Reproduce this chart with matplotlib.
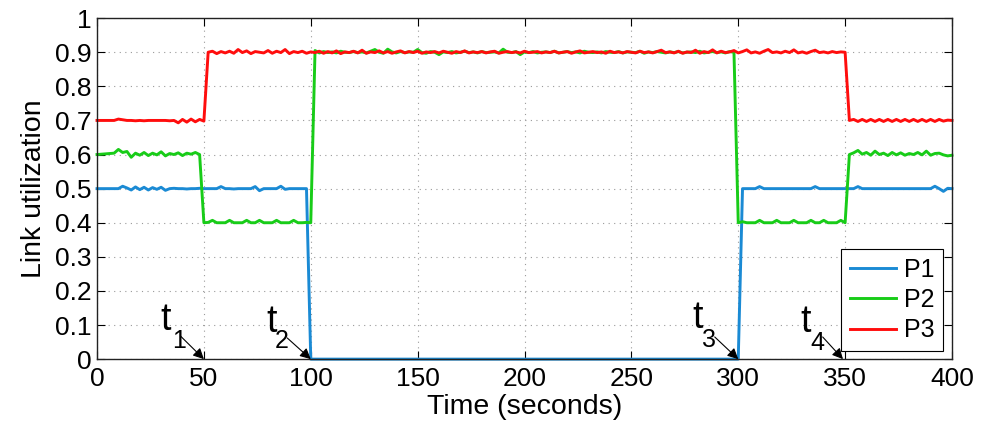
import numpy as np
import matplotlib.pyplot as plt

plt.rcParams['font.family'] = ['Liberation Sans', 'DejaVu Sans']

# sample times (seconds), one sample every 2 s
time = np.arange(0, 401, 2)

# link utilization per path
p1 = ([0.500, 0.500, 0.500, 0.500, 0.500, 0.500, 0.507, 0.502, 0.496, 0.505,
       0.497, 0.504, 0.496, 0.503, 0.498, 0.504, 0.495, 0.500, 0.501, 0.500,
       0.500, 0.499, 0.500, 0.500, 0.501, 0.500, 0.500, 0.500, 0.500, 0.506,
       0.500, 0.500, 0.499, 0.500, 0.500, 0.500, 0.500, 0.506, 0.494, 0.500,
       0.500, 0.500, 0.500, 0.507, 0.498, 0.500, 0.500, 0.500, 0.500, 0.500]
      + [0.0] * 100
      + [0.000, 0.500, 0.500, 0.500, 0.500, 0.506, 0.500, 0.500, 0.500, 0.500,
         0.500, 0.500, 0.500, 0.500, 0.500, 0.500, 0.500, 0.500, 0.506, 0.500,
         0.500, 0.500, 0.500, 0.500, 0.500, 0.500, 0.500, 0.500, 0.506, 0.500,
         0.500, 0.500, 0.500, 0.500, 0.500, 0.500, 0.500, 0.500, 0.500, 0.500,
         0.500, 0.500, 0.500, 0.500, 0.500, 0.500, 0.507, 0.500, 0.492, 0.501,
         0.500])

p2 = [0.600, 0.601, 0.602, 0.603, 0.604, 0.615, 0.606, 0.609, 0.592, 0.604,
      0.598, 0.606, 0.597, 0.604, 0.599, 0.608, 0.596, 0.603, 0.600, 0.605,
      0.597, 0.604, 0.601, 0.606, 0.600, 0.400, 0.401, 0.407, 0.400, 0.400,
      0.400, 0.407, 0.400, 0.400, 0.400, 0.407, 0.400, 0.400, 0.407, 0.400,
      0.400, 0.400, 0.407, 0.400, 0.400, 0.400, 0.407, 0.400, 0.400, 0.401,
      0.400, 0.905, 0.898, 0.902, 0.899, 0.901, 0.898, 0.903, 0.900, 0.899,
      0.902, 0.899, 0.901, 0.898, 0.903, 0.908, 0.900, 0.897, 0.909, 0.901,
      0.898, 0.902, 0.899, 0.901, 0.900, 0.908, 0.899, 0.897, 0.902, 0.900,
      0.893, 0.901, 0.899, 0.902, 0.898, 0.900, 0.903, 0.899, 0.901, 0.898,
      0.902, 0.899, 0.900, 0.901, 0.898, 0.909, 0.900, 0.899, 0.902, 0.893,
      0.901, 0.899, 0.902, 0.898, 0.900, 0.901, 0.899, 0.903, 0.898, 0.900,
      0.902, 0.899, 0.901, 0.898, 0.903, 0.900, 0.899, 0.901, 0.898, 0.902,
      0.900, 0.899, 0.902, 0.898, 0.901, 0.900, 0.899, 0.903, 0.897, 0.901,
      0.899, 0.902, 0.900, 0.898, 0.901, 0.899, 0.902, 0.898, 0.900, 0.901,
      0.899, 0.903, 0.898, 0.900, 0.902, 0.899, 0.901, 0.898, 0.902, 0.900,
      0.400, 0.403, 0.400, 0.400, 0.400, 0.407, 0.400, 0.400, 0.400, 0.407,
      0.400, 0.400, 0.400, 0.407, 0.400, 0.400, 0.400, 0.407, 0.400, 0.400,
      0.407, 0.400, 0.400, 0.400, 0.407, 0.400, 0.600, 0.605, 0.612, 0.601,
      0.606, 0.598, 0.610, 0.600, 0.604, 0.597, 0.606, 0.599, 0.605, 0.598,
      0.603, 0.600, 0.606, 0.599, 0.610, 0.598, 0.603, 0.604, 0.599, 0.596,
      0.598]

p3 = [0.700, 0.700, 0.700, 0.700, 0.700, 0.704, 0.702, 0.700, 0.700, 0.699,
      0.700, 0.699, 0.700, 0.700, 0.700, 0.700, 0.700, 0.699, 0.700, 0.693,
      0.703, 0.695, 0.704, 0.696, 0.703, 0.698, 0.900, 0.903, 0.896, 0.902,
      0.898, 0.903, 0.897, 0.908, 0.899, 0.904, 0.896, 0.902, 0.900, 0.898,
      0.905, 0.897, 0.903, 0.899, 0.908, 0.896, 0.902, 0.899, 0.903, 0.897,
      0.901, 0.899, 0.903, 0.897, 0.902, 0.898, 0.904, 0.896, 0.901, 0.899,
      0.903, 0.898, 0.906, 0.897, 0.901, 0.899, 0.904, 0.898, 0.902, 0.897,
      0.901, 0.904, 0.898, 0.902, 0.899, 0.903, 0.897, 0.901, 0.899, 0.902,
      0.898, 0.903, 0.900, 0.897, 0.902, 0.899, 0.904, 0.898, 0.901, 0.899,
      0.902, 0.898, 0.901, 0.903, 0.897, 0.900, 0.902, 0.899, 0.901, 0.898,
      0.903, 0.899, 0.900, 0.902, 0.898, 0.901, 0.899, 0.903, 0.898, 0.900,
      0.902, 0.897, 0.901, 0.904, 0.898, 0.900, 0.902, 0.899, 0.901, 0.897,
      0.903, 0.899, 0.901, 0.898, 0.902, 0.900, 0.898, 0.903, 0.899, 0.901,
      0.898, 0.902, 0.906, 0.899, 0.901, 0.898, 0.903, 0.897, 0.901, 0.899,
      0.906, 0.897, 0.902, 0.899, 0.907, 0.898, 0.903, 0.899, 0.901, 0.905,
      0.898, 0.902, 0.907, 0.898, 0.901, 0.897, 0.903, 0.908, 0.899, 0.901,
      0.898, 0.903, 0.899, 0.907, 0.898, 0.901, 0.897, 0.902, 0.906, 0.899,
      0.901, 0.898, 0.902, 0.899, 0.901, 0.900, 0.700, 0.703, 0.697, 0.703,
      0.697, 0.703, 0.697, 0.703, 0.697, 0.703, 0.697, 0.703, 0.697, 0.703,
      0.697, 0.703, 0.697, 0.703, 0.697, 0.703, 0.697, 0.703, 0.698, 0.701,
      0.700]

series = {'P1': p1, 'P2': p2, 'P3': p3}
colors = {'P1': '#1a8ad4', 'P2': '#18cc18', 'P3': '#ff0d0d'}

xticks = [0, 50, 100, 150, 200, 250, 300, 350, 400]
yticks = [0, 0.1, 0.2, 0.3, 0.4, 0.5, 0.6, 0.7, 0.8, 0.9, 1]
ytick_labels = ['0', '0.1', '0.2', '0.3', '0.4', '0.5', '0.6', '0.7', '0.8', '0.9', '1']

# event markers: subscript, "t" position, subscript position, arrow tail, arrow tip x
events = [
    ('1', (29.5, 0.085), (35.1, 0.032), (39.0, 0.068), 50.0),
    ('2', (79.1, 0.079), (83.3, 0.032), (89.0, 0.062), 100.0),
    ('3', (278.4, 0.091), (283.0, 0.035), (289.0, 0.065), 300.0),
    ('4', (328.9, 0.079), (333.6, 0.026), (339.5, 0.065), 349.0),
]

fig = plt.figure(figsize=(9.9, 4.22), dpi=100)
ax = fig.add_axes([0.098, 0.149, 0.8636, 0.808])

for name, vals in series.items():
    ax.plot(time, vals, color=colors[name], lw=2.1, label=name, clip_on=False)

ax.set_xlim(0, 400)
ax.set_ylim(0, 1)
ax.set_xticks(xticks)
ax.set_yticks(yticks)
ax.set_yticklabels(ytick_labels)
ax.tick_params(direction='in', length=6, width=0.8, labelsize=19,
               top=True, right=True, pad=4)
ax.tick_params(axis='x', pad=6)
ax.grid(True, linestyle=(0, (1, 4)), color='#9a9a9a', lw=0.8)
for sp in ax.spines.values():
    sp.set_color('#222222')
    sp.set_linewidth(1.0)

ax.set_xlabel('Time (seconds)', fontsize=20.5, labelpad=2)
ax.set_ylabel('Link utilization', fontsize=20.5, labelpad=6)

for sub, tpos, spos, tail, tip in events:
    ax.text(*tpos, 't', fontsize=27, ha='left', va='baseline')
    ax.text(*spos, sub, fontsize=18, ha='left', va='baseline')
    ax.annotate('', xy=(tip, 0.0), xytext=tail,
                arrowprops=dict(arrowstyle='-|>', color='k', lw=0.8,
                                mutation_scale=16, shrinkA=0, shrinkB=0))

leg = ax.legend(loc='lower right', bbox_to_anchor=(0.9895, 0.0235), borderaxespad=0,
                fontsize=18, fancybox=False, edgecolor='k', framealpha=1,
                handlelength=1.85, labelspacing=0.25, borderpad=0.35, handletextpad=0.3)
leg.get_frame().set_linewidth(0.8)

fig.savefig('out.png', dpi=100)
